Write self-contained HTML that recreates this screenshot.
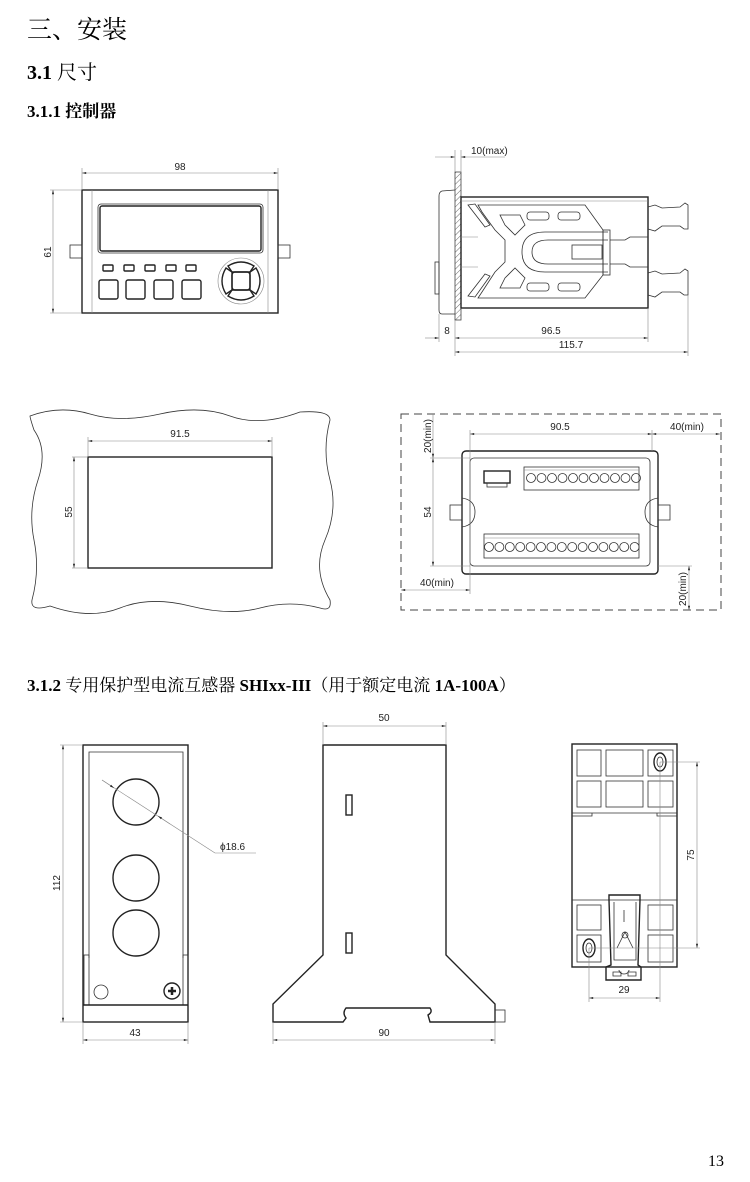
<!DOCTYPE html>
<html><head><meta charset="utf-8"><style>
html,body{margin:0;padding:0;background:#fff;}
svg{display:block}
.h{font-family:"Liberation Serif","Noto Serif CJK SC",serif;fill:#000}
.d{font-family:"Liberation Sans","DejaVu Sans",sans-serif;font-size:10px;fill:#222}
.k{fill:none;stroke:#222;stroke-width:1.4}
.t{fill:none;stroke:#333;stroke-width:0.8}
.g{fill:none;stroke:#888;stroke-width:0.6}
</style></head><body>
<svg width="750" height="1182" viewBox="0 0 750 1182" xmlns="http://www.w3.org/2000/svg">
<defs>
<marker id="a" viewBox="0 0 10 10" refX="10" refY="5" markerWidth="9" markerHeight="7" orient="auto-start-reverse"><path d="M0,2.5 L10,5 L0,7.5z" fill="#222"/></marker>
<pattern id="hat" width="4" height="4" patternUnits="userSpaceOnUse" patternTransform="rotate(45)"><line x1="0" y1="0" x2="0" y2="4" stroke="#444" stroke-width="0.8"/></pattern>
</defs>
<text class="h" x="27" y="38" font-size="25">三、安装</text>
<text class="h" x="27" y="79" font-size="20" font-weight="bold">3.1 <tspan font-weight="normal">尺寸</tspan></text>
<text class="h" x="27" y="117" font-size="17" font-weight="bold">3.1.1 控制器</text>
<text class="h" x="27" y="691" font-size="17" font-weight="bold">3.1.2 <tspan font-weight="normal">专用保护型电流互感器</tspan> SHIxx-III<tspan font-weight="normal">（用于额定电流</tspan> 1A-100A<tspan font-weight="normal">）</tspan></text>
<text class="h" x="708" y="1166" font-size="16">13</text>

<!-- Front view -->
<g>
<rect class="k" x="82" y="190" width="196" height="123"/>
<line class="g" x1="92" y1="190" x2="92" y2="313"/><line class="g" x1="268" y1="190" x2="268" y2="313"/>
<rect class="t" x="98" y="204" width="165" height="49" rx="3"/>
<rect class="k" x="100" y="206" width="161" height="45" rx="2"/>
<g class="k"><rect x="103" y="265" width="10" height="6" rx="1"/><rect x="124" y="265" width="10" height="6" rx="1"/><rect x="145" y="265" width="10" height="6" rx="1"/><rect x="166" y="265" width="10" height="6" rx="1"/><rect x="186" y="265" width="10" height="6" rx="1"/>
<rect x="99" y="280" width="19" height="19" rx="2"/><rect x="126" y="280" width="19" height="19" rx="2"/><rect x="154" y="280" width="19" height="19" rx="2"/><rect x="182" y="280" width="19" height="19" rx="2"/></g>
<circle class="g" cx="241" cy="281" r="23" stroke-width="1.5"/>
<g class="k"><rect x="232" y="272" width="18" height="18" rx="3"/><path d="M228,266 Q241,258 254,266 L250,272 L232,272Z"/><path d="M228,296 Q241,304 254,296 L250,290 L232,290Z"/><path d="M226,268 Q218,281 226,294 L232,290 L232,272Z"/><path d="M256,268 Q264,281 256,294 L250,290 L250,272Z"/></g>
<rect class="t" x="70" y="245" width="12" height="13"/><rect class="t" x="278" y="245" width="12" height="13"/>
<line class="g" x1="82" y1="168" x2="82" y2="190"/><line class="g" x1="278" y1="168" x2="278" y2="190"/>
<line class="g" x1="82" y1="173" x2="278" y2="173" marker-start="url(#a)" marker-end="url(#a)"/>
<text class="d" x="180" y="170" text-anchor="middle">98</text>
<line class="g" x1="50" y1="190" x2="82" y2="190"/><line class="g" x1="50" y1="313" x2="82" y2="313"/>
<line class="g" x1="53" y1="190" x2="53" y2="313" marker-start="url(#a)" marker-end="url(#a)"/>
<text class="d" x="48" y="252" text-anchor="middle" transform="rotate(-90 48 252)" dy="3">61</text>
</g>

<!-- Side view -->
<g>
<rect x="455" y="172" width="6" height="148" fill="url(#hat)" stroke="#444" stroke-width="0.8"/>
<path class="t" d="M455,190 L442,191 Q439,192 439,196 L439,310 Q439,314 442,314 L455,314"/>
<rect class="t" x="435" y="262" width="4" height="32"/>
<rect class="k" x="461" y="197" width="187" height="111"/>
<line class="g" x1="461" y1="201" x2="648" y2="201"/>
<path class="t" d="M468,205 L475,204 L490,225 L485,227Z M468,296 L475,297 L490,276 L485,274Z"/>
<path class="t" d="M478,205 L585,205 L603,230 L603,275 L585,298 L478,298 L482,292 L495,272 L505,262 L505,240 L495,230 L482,212Z"/>
<path class="t" d="M500,215 L520,215 L525,225 L515,235 L505,225Z M500,288 L520,288 L525,278 L515,268 L505,278Z"/>
<rect class="t" x="527" y="212" width="22" height="8" rx="3"/><rect class="t" x="558" y="212" width="22" height="8" rx="3"/>
<rect class="t" x="527" y="283" width="22" height="8" rx="3"/><rect class="t" x="558" y="283" width="22" height="8" rx="3"/>
<path class="t" d="M608,232 L545,232 Q522,232 522,252 Q522,272 545,272 L608,272"/>
<path class="t" d="M608,240 L548,240 Q532,240 532,252 Q532,264 548,264 L608,264"/>
<rect class="t" x="572" y="245" width="30" height="14"/><rect class="t" x="603" y="230" width="7" height="45"/>
<path class="t" d="M610,240 L625,240 L630,237 L648,237 M610,264 L625,264 L630,267 L648,267"/>
<line class="g" x1="461" y1="237" x2="478" y2="237"/><line class="g" x1="461" y1="267" x2="478" y2="267"/>
<path class="t" d="M648,207 L655,205 L662,208 L680,207 L685,203 L688,205 L688,229 L684,229 L680,226 L662,226 L655,231 L648,229"/>
<path class="t" d="M648,273 L655,271 L662,274 L680,273 L685,269 L688,271 L688,295 L684,295 L680,292 L662,292 L655,297 L648,295"/>
<line class="g" x1="455" y1="150" x2="455" y2="172"/><line class="g" x1="461" y1="150" x2="461" y2="172"/>
<line class="g" x1="435" y1="157" x2="455" y2="157" marker-end="url(#a)"/><line class="g" x1="505" y1="157" x2="461" y2="157" marker-end="url(#a)"/>
<text class="d" x="471" y="154">10(max)</text>
<line class="g" x1="439" y1="314" x2="439" y2="342"/><line class="g" x1="455" y1="320" x2="455" y2="356"/>
<line class="g" x1="648" y1="308" x2="648" y2="342"/><line class="g" x1="688" y1="295" x2="688" y2="356"/>
<line class="g" x1="425" y1="338" x2="439" y2="338" marker-end="url(#a)"/>
<line class="g" x1="455" y1="338" x2="648" y2="338" marker-start="url(#a)" marker-end="url(#a)"/>
<text class="d" x="447" y="334" text-anchor="middle">8</text>
<text class="d" x="551" y="334" text-anchor="middle">96.5</text>
<line class="g" x1="455" y1="352" x2="688" y2="352" marker-start="url(#a)" marker-end="url(#a)"/>
<text class="d" x="571" y="348" text-anchor="middle">115.7</text>
</g>

<!-- Panel cutout -->
<g>
<path class="t" d="M30,416 Q60,405 90,414 T160,414 T230,416 T300,412 Q330,410 330,420 Q322,450 330,480 T325,540 T330,600 Q332,612 320,608 Q290,600 260,608 T190,606 T120,608 T50,606 Q30,612 32,600 Q40,570 34,540 T38,480 T34,430 Q30,418 30,416Z"/>
<rect class="k" x="88" y="457" width="184" height="111"/>
<line class="g" x1="88" y1="437" x2="88" y2="457"/><line class="g" x1="272" y1="437" x2="272" y2="457"/>
<line class="g" x1="88" y1="441" x2="272" y2="441" marker-start="url(#a)" marker-end="url(#a)"/>
<text class="d" x="180" y="437" text-anchor="middle">91.5</text>
<line class="g" x1="72" y1="457" x2="88" y2="457"/><line class="g" x1="72" y1="568" x2="88" y2="568"/>
<line class="g" x1="74" y1="457" x2="74" y2="568" marker-start="url(#a)" marker-end="url(#a)"/>
<text class="d" x="69" y="512" text-anchor="middle" transform="rotate(-90 69 512)" dy="3">55</text>
</g>

<!-- Rear view -->
<g>
<rect x="401" y="414" width="320" height="196" fill="none" stroke="#444" stroke-width="1" stroke-dasharray="8,5"/>
<rect class="k" x="462" y="451" width="196" height="123" rx="4"/>
<rect class="t" x="470" y="458" width="180" height="108" rx="4"/>
<rect class="t" x="524" y="467" width="115" height="23"/><line class="g" x1="524" y1="470" x2="639" y2="470"/>
<g class="t">
<circle cx="531" cy="478" r="4.5"/><circle cx="541.5" cy="478" r="4.5"/><circle cx="552" cy="478" r="4.5"/><circle cx="562.5" cy="478" r="4.5"/><circle cx="573" cy="478" r="4.5"/><circle cx="583.5" cy="478" r="4.5"/><circle cx="594" cy="478" r="4.5"/><circle cx="604.5" cy="478" r="4.5"/><circle cx="615" cy="478" r="4.5"/><circle cx="625.5" cy="478" r="4.5"/><circle cx="636" cy="478" r="4.5"/>
</g>
<rect class="k" x="484" y="471" width="26" height="12"/><rect class="t" x="487" y="483" width="20" height="4"/>
<rect class="t" x="484" y="534" width="155" height="24"/><line class="g" x1="484" y1="538" x2="639" y2="538"/>
<g class="t">
<circle cx="489" cy="547" r="4.5"/><circle cx="499.4" cy="547" r="4.5"/><circle cx="509.8" cy="547" r="4.5"/><circle cx="520.2" cy="547" r="4.5"/><circle cx="530.6" cy="547" r="4.5"/><circle cx="541" cy="547" r="4.5"/><circle cx="551.4" cy="547" r="4.5"/><circle cx="561.8" cy="547" r="4.5"/><circle cx="572.2" cy="547" r="4.5"/><circle cx="582.6" cy="547" r="4.5"/><circle cx="593" cy="547" r="4.5"/><circle cx="603.4" cy="547" r="4.5"/><circle cx="613.8" cy="547" r="4.5"/><circle cx="624.2" cy="547" r="4.5"/><circle cx="634.6" cy="547" r="4.5"/>
</g>
<rect class="t" x="450" y="505" width="12" height="15"/><rect class="t" x="658" y="505" width="12" height="15"/>
<path class="t" d="M462,498 Q475,500 475,512 Q475,525 462,527 M658,498 Q645,500 645,512 Q645,525 658,527"/>
<line class="g" x1="470" y1="430" x2="470" y2="594"/><line class="g" x1="652" y1="430" x2="652" y2="451"/>
<line class="g" x1="470" y1="434" x2="652" y2="434" marker-start="url(#a)" marker-end="url(#a)"/>
<text class="d" x="560" y="430" text-anchor="middle">90.5</text>
<line class="g" x1="652" y1="434" x2="720" y2="434" marker-start="url(#a)" marker-end="url(#a)"/>
<text class="d" x="687" y="430" text-anchor="middle">40(min)</text>
<line class="g" x1="430" y1="458" x2="470" y2="458"/><line class="g" x1="430" y1="566" x2="470" y2="566"/>
<line class="g" x1="433" y1="414" x2="433" y2="458" marker-end="url(#a)"/>
<text class="d" x="428" y="436" text-anchor="middle" transform="rotate(-90 428 436)" dy="3">20(min)</text>
<line class="g" x1="433" y1="458" x2="433" y2="566" marker-start="url(#a)" marker-end="url(#a)"/>
<text class="d" x="428" y="512" text-anchor="middle" transform="rotate(-90 428 512)" dy="3">54</text>
<line class="g" x1="401" y1="590" x2="470" y2="590" marker-start="url(#a)" marker-end="url(#a)"/>
<text class="d" x="437" y="586" text-anchor="middle">40(min)</text>
<line class="g" x1="658" y1="566" x2="692" y2="566"/>
<line class="g" x1="689" y1="566" x2="689" y2="610" marker-start="url(#a)" marker-end="url(#a)"/>
<text class="d" x="683" y="589" text-anchor="middle" transform="rotate(-90 683 589)" dy="3">20(min)</text>
</g>

<!-- CT front -->
<g>
<rect class="k" x="83" y="745" width="105" height="277"/>
<path class="t" d="M89,958 L89,752 L183,752 L183,958"/>
<rect class="t" x="84" y="955" width="5" height="50"/><rect class="t" x="183" y="955" width="5" height="50"/>
<line class="k" x1="83" y1="1005" x2="188" y2="1005"/>
<circle class="k" cx="136" cy="802" r="23"/><circle class="k" cx="136" cy="878" r="23"/><circle class="k" cx="136" cy="933" r="23"/>
<circle class="t" cx="101" cy="992" r="7"/>
<circle class="k" cx="172" cy="991" r="8"/><path d="M168,991h8M172,987v8" stroke="#222" stroke-width="2.5" fill="none"/>
<line class="g" x1="102" y1="780" x2="215" y2="853"/><line class="g" x1="215" y1="853" x2="256" y2="853"/>
<line class="g" x1="102" y1="780" x2="114" y2="788" marker-end="url(#a)"/><line class="g" x1="170" y1="824" x2="158" y2="816" marker-end="url(#a)"/>
<text class="d" x="220" y="850" font-size="10">ϕ18.6</text>
<line class="g" x1="60" y1="745" x2="83" y2="745"/><line class="g" x1="60" y1="1022" x2="83" y2="1022"/>
<line class="g" x1="63" y1="745" x2="63" y2="1022" marker-start="url(#a)" marker-end="url(#a)"/>
<text class="d" x="57" y="883" text-anchor="middle" transform="rotate(-90 57 883)" dy="3" font-size="10">112</text>
<line class="g" x1="83" y1="1022" x2="83" y2="1044"/><line class="g" x1="188" y1="1022" x2="188" y2="1044"/>
<line class="g" x1="83" y1="1040" x2="188" y2="1040" marker-start="url(#a)" marker-end="url(#a)"/>
<text class="d" x="135" y="1036" text-anchor="middle" font-size="10">43</text>
</g>

<!-- CT side -->
<g>
<path class="k" d="M323,745 L446,745 L446,955 L495,1004 L495,1022 L430,1022 L428,1015 Q433,1012 430,1008 L346,1008 Q342,1013 346,1018 L343,1022 L273,1022 L273,1004 L323,955Z"/>
<rect class="k" x="346" y="795" width="6" height="20"/><rect class="k" x="346" y="933" width="6" height="20"/>
<rect class="t" x="495" y="1010" width="10" height="12"/>
<line class="g" x1="323" y1="722" x2="323" y2="745"/><line class="g" x1="446" y1="722" x2="446" y2="745"/>
<line class="g" x1="323" y1="726" x2="446" y2="726" marker-start="url(#a)" marker-end="url(#a)"/>
<text class="d" x="384" y="721" text-anchor="middle" font-size="10">50</text>
<line class="g" x1="273" y1="1022" x2="273" y2="1044"/><line class="g" x1="495" y1="1022" x2="495" y2="1044"/>
<line class="g" x1="273" y1="1040" x2="495" y2="1040" marker-start="url(#a)" marker-end="url(#a)"/>
<text class="d" x="384" y="1036" text-anchor="middle" font-size="10">90</text>
</g>

<!-- CT bottom -->
<g>
<rect class="k" x="572" y="744" width="105" height="223"/>
<g class="t">
<rect x="577" y="750" width="24" height="26"/><rect x="606" y="750" width="37" height="26"/><rect x="648" y="750" width="25" height="26"/>
<rect x="577" y="781" width="24" height="26"/><rect x="606" y="781" width="37" height="26"/><rect x="648" y="781" width="25" height="26"/>
<rect x="577" y="905" width="24" height="25"/><rect x="648" y="905" width="25" height="25"/>
<rect x="577" y="935" width="24" height="27"/><rect x="648" y="935" width="25" height="27"/>
</g>
<path class="t" d="M572,813 L677,813 M572,900 L677,900 M592,813 v3 h-20 M657,813 v3 h20"/>
<path class="k" d="M609,900 L609,895 L640,895 L640,900 M609,900 L611,965 L606,967 L606,980 L641,980 L641,967 L638,965 L640,900"/>
<path class="t" d="M614,902 L614,960 L636,960 L636,902 M624,910 v12 M617,948 L625,932 L633,948 M622,935 a3,3 0 1 0 6,0 a3,3 0 1 0 -6,0"/>
<path class="t" d="M613,972 h8 v4 h-8z M628,972 h8 v4 h-8z M619,970 a5,4 0 0 0 10,0"/>
<ellipse class="k" cx="660" cy="762" rx="6" ry="9"/><ellipse class="t" cx="660" cy="762" rx="3" ry="5"/>
<ellipse class="k" cx="589" cy="948" rx="6" ry="9"/><ellipse class="t" cx="589" cy="948" rx="3" ry="5"/>
<line class="g" x1="660" y1="762" x2="700" y2="762"/><line class="g" x1="589" y1="948" x2="700" y2="948"/>
<line class="g" x1="697" y1="762" x2="697" y2="948" marker-start="url(#a)" marker-end="url(#a)"/>
<text class="d" x="691" y="855" text-anchor="middle" transform="rotate(-90 691 855)" dy="3" font-size="10">75</text>
<line class="g" x1="660" y1="762" x2="660" y2="1002"/><line class="g" x1="589" y1="948" x2="589" y2="1002"/>
<line class="g" x1="589" y1="998" x2="660" y2="998" marker-start="url(#a)" marker-end="url(#a)"/>
<text class="d" x="624" y="993" text-anchor="middle" font-size="10">29</text>
</g>
</svg>
</body></html>
